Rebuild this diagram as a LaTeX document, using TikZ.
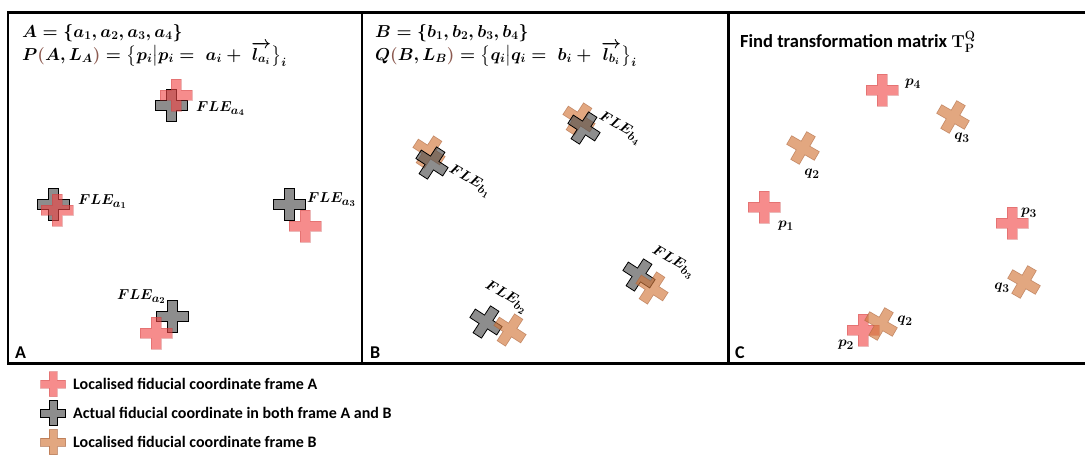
\documentclass[tikz,border=0pt]{standalone}
\usepackage{amsmath}
\usepackage[no-math]{fontspec}
\newfontfamily\calib{Carlito}
\newcommand\Sb[1]{_{\mbox{\fontsize{12.5}{12.5}\selectfont$#1$}}}
\newcommand\Sf[1]{_{\mbox{\fontsize{11.5}{11.5}\selectfont$#1$}}}
\newcommand\Ss[1]{_{\mbox{\fontsize{9}{9}\selectfont$#1$}}}
\definecolor{redc}{RGB}{240,70,70}
\definecolor{grayc}{RGB}{80,80,80}
\definecolor{orc}{RGB}{210,120,60}
\definecolor{oredge}{RGB}{170,100,60}
\definecolor{parcol}{RGB}{140,90,80}
\tikzset{
  plus/.pic={\path[pic actions] (-16,-5) -- (-5,-5) -- (-5,-16) -- (5,-16) -- (5,-5) -- (16,-5) -- (16,5) -- (5,5) -- (5,16) -- (-5,16) -- (-5,5) -- (-16,5) -- cycle;},
  smallplus/.pic={\path[pic actions] (-12.5,-4) -- (-4,-4) -- (-4,-12.5) -- (4,-12.5) -- (4,-4) -- (12.5,-4) -- (12.5,4) -- (4,4) -- (4,12.5) -- (-4,12.5) -- (-4,4) -- (-12.5,4) -- cycle;},
  redx/.style={fill=redc, fill opacity=0.62, draw=redc!80!black, draw opacity=0.3, line width=0.5pt},
  grayx/.style={fill=grayc, fill opacity=0.65, draw=black, line width=0.8pt},
  orx/.style={fill=orc, fill opacity=0.65, draw=oredge, draw opacity=0.6, line width=0.6pt},
  fle/.style={inner sep=0pt, font=\fontsize{14.5}{16}\selectfont\boldmath},
  formula/.style={inner sep=0pt, anchor=west, font=\fontsize{16.5}{20}\selectfont\boldmath},
  panellab/.style={inner sep=0pt, anchor=base west, font=\calib\bfseries\fontsize{18}{20}\selectfont},
  legtext/.style={inner sep=0pt, anchor=west, font=\calib\bfseries\fontsize{16}{18}\selectfont},
  frame/.style={line width=2.2pt, line cap=rect}
}
\begin{document}
\begin{tikzpicture}[x=1pt,y=-1pt]
\useasboundingbox (0,0) rectangle (1085,455);
% frames
\draw[frame] (8,12.5) -- (1090,12.5);
\draw[frame] (8,363.5) -- (1090,363.5);
\draw[frame] (8,12.5) -- (8,363.5);
\draw[frame] (362,12.5) -- (362,363.5);
\draw[frame] (728.5,12.5) -- (728.5,363.5);

% ---------- Panel A ----------
\node[formula] (fa1) at (22,33) {$A=\{a\Sb{1},a\Sb{2},a\Sb{3},a\Sb{4}\}$};
\node[formula] (fa2) at (22,54) {$P{\color{parcol}(}A,L\Sb{A}{\color{parcol})}=\bigl\{p\Sb{i}\big|p\Sb{i}=\;a\Sb{i}+\;\overrightarrow{l\Sb{a\Ss{i}}}\bigr\}\Sb{i}$};

\pic[grayx] (ga4) at (171,105) {plus};
\pic[redx] (ra4) at (176,95) {plus};
\pic[grayx] (ga1) at (53,204) {plus};
\pic[redx] (ra1) at (57,210) {plus};
\pic[grayx] (ga3) at (289,204) {plus};
\pic[redx] (ra3) at (305,226) {plus};
\pic[grayx] (ga2) at (172,316) {plus};
\pic[redx] (ra2) at (156,333) {plus};

\node[fle, anchor=west] (la4) at (196,109) {$FLE\Sf{a\Ss{4}}$};
\node[fle, anchor=west] (la1) at (78,202) {$FLE\Sf{a\Ss{1}}$};
\node[fle, anchor=west] (la3) at (307,200) {$FLE\Sf{a\Ss{3}}$};
\node[fle, anchor=east] (la2) at (166,297) {$FLE\Sf{a\Ss{2}}$};
\node[panellab] (pA) at (15,358) {A};

% ---------- Panel B ----------
\node[formula] (fb1) at (375,33) {$B=\{b\Sb{1},b\Sb{2},b\Sb{3},b\Sb{4}\}$};
\node[formula] (fb2) at (375,54) {$Q{\color{parcol}(}B,L\Sb{B}{\color{parcol})}=\bigl\{q\Sb{i}\big|q\Sb{i}=\;b\Sb{i}+\;\overrightarrow{l\Sb{b\Ss{i}}}\bigr\}\Sb{i}$};

\pic[orx, rotate=-33] (ob4) at (579,119) {plus};
\pic[grayx, rotate=-33] (gb4) at (584,128) {plus};
\pic[orx, rotate=-33] (ob1) at (429,152) {plus};
\pic[grayx, rotate=-33] (gb1) at (432,163) {plus};
\pic[grayx, rotate=-33] (gb3) at (639,275) {plus};
\pic[orx, rotate=-33] (ob3) at (652,288) {plus};
\pic[grayx, rotate=-33] (gb2) at (486,322) {plus};
\pic[orx, rotate=-33] (ob2) at (510,330) {plus};

\node[fle, rotate=-30] (lb4) at (620,128) {$FLE\Sf{b\Ss{4}}$};
\node[fle, rotate=-30] (lb1) at (470,181) {$FLE\Sf{b\Ss{1}}$};
\node[fle, rotate=-30] (lb3) at (673,262) {$FLE\Sf{b\Ss{3}}$};
\node[fle, rotate=-30] (lb2) at (506,297) {$FLE\Sf{b\Ss{2}}$};
\node[panellab] (pB) at (370,358) {B};

% ---------- Panel C ----------
\node[inner sep=0pt, anchor=west, font=\calib\bfseries\fontsize{18.5}{20}\selectfont] (title) at (740,42) {Find transformation matrix $\mathbf{T}_{\mathbf{P}}^{\mathbf{Q}}$};

\pic[redx] (rp4) at (882,90) {plus};
\pic[orx, rotate=-30] (oq3a) at (953,117) {plus};
\pic[orx, rotate=-30] (oq2a) at (803,148) {plus};
\pic[redx] (rp1) at (764,207) {plus};
\pic[redx] (rp3) at (1012,223) {plus};
\pic[orx, rotate=-30] (oq3b) at (1024,282) {plus};
\pic[redx] (rp2) at (863,330) {plus};
\pic[orx, rotate=-30] (oq2b) at (881,324) {plus};

\node[fle] (lp4) at (913,84) {$p\Sf{4}$};
\node[fle] (lq3a) at (962,138) {$q\Sf{3}$};
\node[fle] (lq2a) at (812,174) {$q\Sf{2}$};
\node[fle] (lp1) at (786,226) {$p\Sf{1}$};
\node[fle] (lp3) at (1029,213) {$p\Sf{3}$};
\node[fle] (lq3b) at (1002,288) {$q\Sf{3}$};
\node[fle] (lq2b) at (905,321) {$q\Sf{2}$};
\node[fle] (lp2) at (846,345) {$p\Sf{2}$};
\node[panellab] (pC) at (735,358) {C};

% ---------- Legend ----------
\pic[redx] (lg1) at (53,384) {smallplus};
\pic[grayx] (lg2) at (53,413) {smallplus};
\pic[orx] (lg3) at (53,442) {smallplus};
\node[legtext] (lt1) at (73,384) {Localised fiducial coordinate frame A};
\node[legtext] (lt2) at (73,413) {Actual fiducial coordinate in both frame A and B};
\node[legtext] (lt3) at (73,442) {Localised fiducial coordinate frame B};
\end{tikzpicture}
\end{document}
